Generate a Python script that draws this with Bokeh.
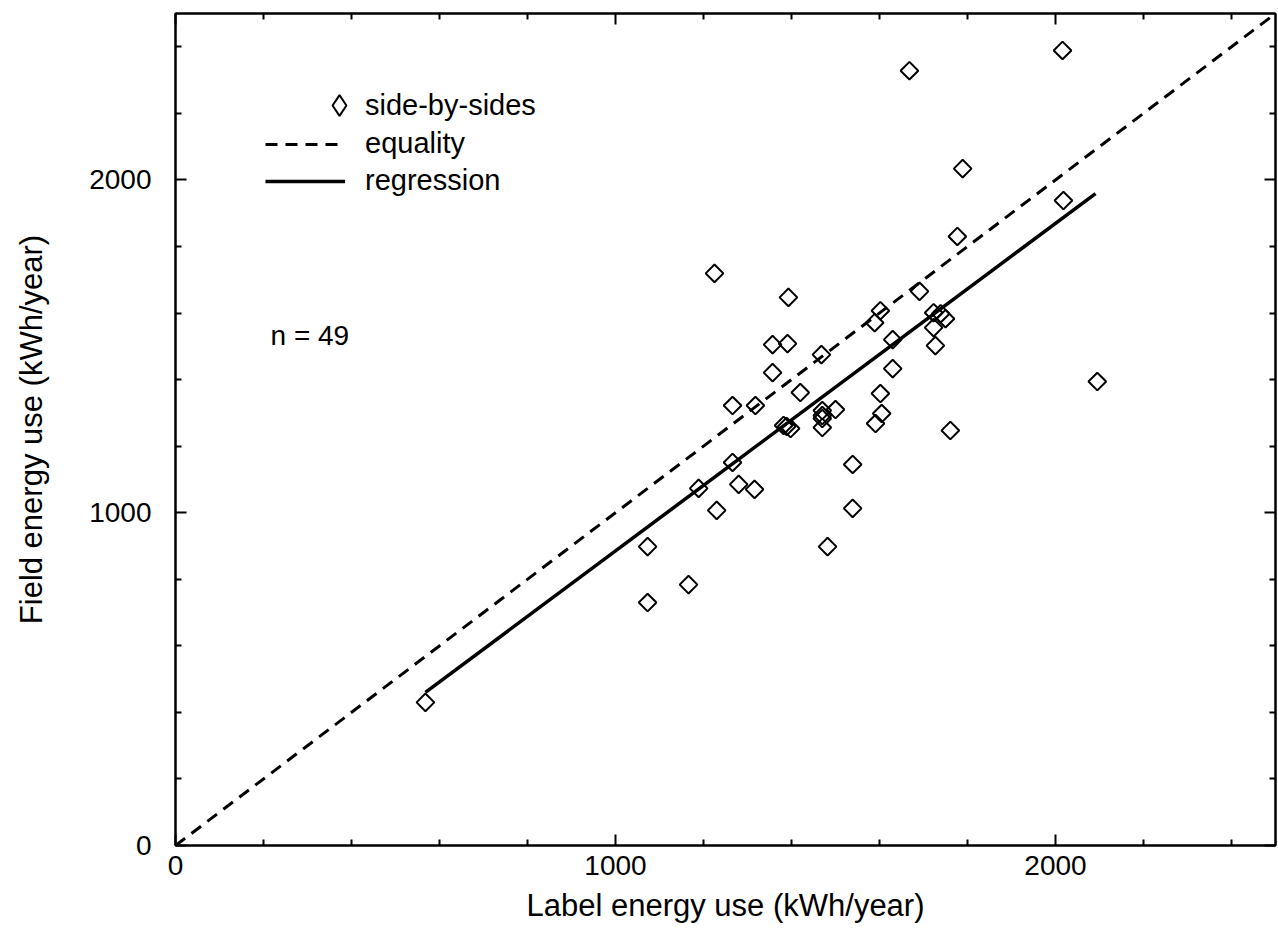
import numpy as np
from bokeh.plotting import figure
from bokeh.models import Range1d, FixedTicker, LinearAxis, Legend, LegendItem, Label
from bokeh.embed import file_html
from bokeh.resources import INLINE

# ---- data ----
label_kwh = [568, 1073, 1073, 1166, 1189, 1230, 1280, 1316, 1266, 1225,
             1266, 1318, 1382, 1389, 1398, 1357, 1357, 1391, 1393, 1420,
             1468, 1470, 1470, 1470, 1500, 1470, 1482, 1539, 1539, 1589,
             1602, 1602, 1605, 1591, 1630, 1630, 1691, 1723, 1739, 1750,
             1723, 1727, 1761, 1777, 1789, 1668, 2016, 2018, 2095]
field_kwh = [430, 730, 898, 784, 1073, 1007, 1085, 1070, 1151, 1719,
             1322, 1322, 1262, 1259, 1253, 1421, 1505, 1508, 1647, 1361,
             1475, 1307, 1292, 1283, 1310, 1256, 898, 1145, 1013, 1571,
             1607, 1358, 1298, 1268, 1520, 1433, 1665, 1601, 1598, 1583,
             1556, 1502, 1247, 1830, 2034, 2328, 2389, 1938, 1394]
eq_x = [0, 2500]
eq_y = [0, 2500]
reg_x = [568, 2091]
reg_y = [460, 1959]
major_ticks = [0, 1000, 2000]
minor_ticks = [200, 400, 600, 800, 1200, 1400, 1600, 1800, 2200, 2400]
n_text = "n = 49"

FONT = "Liberation Sans"

p = figure(width=1278, height=930,
           x_range=Range1d(0, 2500), y_range=Range1d(0, 2500),
           output_backend="svg", toolbar_location=None,
           min_border_left=175, min_border_right=3,
           min_border_top=13, min_border_bottom=85)
p.xgrid.visible = False
p.ygrid.visible = False
p.outline_line_color = "black"
p.outline_line_width = 2
p.background_fill_color = "white"
p.border_fill_color = "white"

p.add_layout(LinearAxis(), "above")
p.add_layout(LinearAxis(), "right")


def style_axis(ax, labels):
    ax.ticker = FixedTicker(ticks=major_ticks, minor_ticks=minor_ticks)
    ax.major_tick_in = 11
    ax.major_tick_out = 0
    ax.minor_tick_in = 6
    ax.minor_tick_out = 0
    ax.axis_line_width = 2
    ax.major_tick_line_width = 2
    ax.minor_tick_line_width = 2
    ax.axis_line_color = "black"
    ax.major_tick_line_color = "black"
    ax.minor_tick_line_color = "black"
    if labels:
        ax.major_label_text_font = FONT
        ax.major_label_text_font_size = "28px"
        ax.major_label_text_color = "black"
        ax.axis_label_text_font = FONT
        ax.axis_label_text_font_size = "31px"
        ax.axis_label_text_font_style = "normal"
        ax.axis_label_text_color = "black"
    else:
        ax.major_label_text_font_size = "1px"
        ax.major_label_text_color = None
        ax.major_label_standoff = 0


for ax in p.below:
    style_axis(ax, True)
    ax.axis_label = "Label energy use (kWh/year)"
    ax.major_label_standoff = 10
    ax.axis_label_standoff = 10
for ax in p.left:
    style_axis(ax, True)
    ax.axis_label = "Field energy use (kWh/year)"
    ax.major_label_standoff = 24
    ax.axis_label_standoff = 37
for ax in p.above + p.right:
    style_axis(ax, False)

eq = p.line(eq_x, eq_y, line_dash="12 8", line_width=3, line_color="black")
reg = p.line(reg_x, reg_y, line_width=3.5, line_color="black")
pts = p.scatter(label_kwh, field_kwh, marker="square", size=12.5, angle=np.pi / 4,
                fill_color=None, line_color="black", line_width=2)
# legend key for the diamond symbol (legend swatches ignore marker angle);
# a single NaN point draws nothing in the plot area
pts_key = p.scatter(x=[float("nan")], y=[float("nan")], marker="diamond",
                    fill_color=None, line_color="black", line_width=2)

common = dict(padding=0, margin=0, border_line_color=None, background_fill_alpha=0,
              label_text_font=FONT, label_text_font_size="29px", label_text_color="black",
              label_height=30)
leg1 = Legend(items=[LegendItem(label="side-by-sides", renderers=[pts_key])],
              location=(138, 714), glyph_width=52, glyph_height=52, label_standoff=0,
              **common)
leg2 = Legend(items=[LegendItem(label="equality", renderers=[eq]),
                     LegendItem(label="regression", renderers=[reg])],
              location=(90, 648), glyph_width=80, glyph_height=30, label_standoff=20,
              spacing=4, **common)
p.add_layout(leg1, "center")
p.add_layout(leg2, "center")

p.add_layout(Label(x=216, y=1532, text=n_text, text_font=FONT, text_font_size="28px",
                   text_baseline="middle", text_color="black"))

open("out.html", "w").write(file_html(p, INLINE))
